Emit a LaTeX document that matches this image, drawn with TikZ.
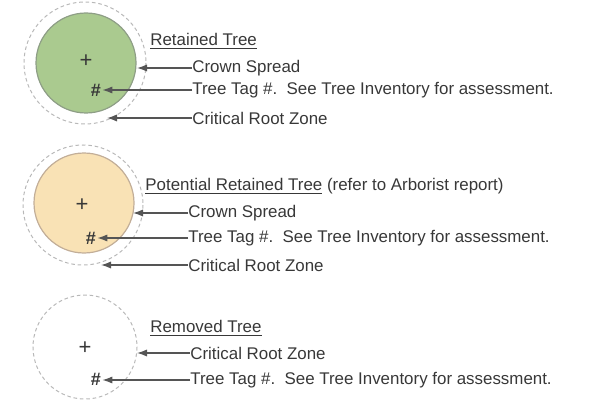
\documentclass[tikz,border=0pt]{standalone}
\usepackage{fontspec}
\setmainfont{Liberation Sans}
\usetikzlibrary{arrows.meta}
\definecolor{txt}{HTML}{383838}
\definecolor{ln}{HTML}{555555}
\definecolor{greenfill}{HTML}{AACA8F}
\definecolor{greenedge}{HTML}{8E9E86}
\definecolor{tanfill}{HTML}{F9E2B5}
\definecolor{tanedge}{HTML}{C2AE98}
\definecolor{dash}{HTML}{B8B8B8}
\tikzset{
  lbl/.style={anchor=west, inner sep=0pt, text=txt, font=\fontsize{8.45}{10}\selectfont},
  ttl/.style={anchor=west, inner sep=0pt, text=txt, font=\fontsize{8.45}{10}\selectfont},
  plus/.style={inner sep=0pt, text=txt, font=\fontsize{11}{12}\selectfont},
  hash/.style={inner sep=0.5pt, text=txt, font=\fontsize{9}{10}\selectfont\bfseries},
  pointer/.style={draw=ln, line width=0.6pt, -{Latex[length=5pt,width=3.6pt]}},
  crz/.style={draw=dash, dashed, dash pattern=on 1.8pt off 1.4pt, line width=0.5pt},
}
\begin{document}
\begin{tikzpicture}[x=0.5pt,y=-0.5pt]
\useasboundingbox (0,0) rectangle (589,401);
% ---------- Retained Tree ----------
\draw[crz] (85,63) circle (61);
\draw[fill=greenfill, draw=greenedge, line width=0.6pt] (86,63) circle (50);
\node[plus] (p1) at (86,61) {+};
\node[hash] (h1) at (96,90) {\#};
\coordinate (cs1) at (137,68);
\coordinate (cr1) at (107,118);
\node[ttl] (t1) at (150,41) {\underline{Retained Tree}};
\node[lbl] (l1a) at (192,68) {Crown Spread};
\node[lbl] (l1b) at (192,90) {Tree Tag \#.\ \ See Tree Inventory for assessment.};
\node[lbl] (l1c) at (192,118) {Critical Root Zone};
\draw[pointer] (l1a.west) -- (cs1);
\draw[pointer] (l1b.west) -- (h1.east |- l1b.west);
\draw[pointer] (l1c.west) -- (cr1);
% ---------- Potential Retained Tree ----------
\draw[crz] (83,205) circle (60);
\draw[fill=tanfill, draw=tanedge, line width=0.6pt] (84,203) circle (50);
\node[plus] (p2) at (82,205) {+};
\node[hash] (h2) at (91,238) {\#};
\coordinate (cs2) at (133,213);
\coordinate (cr2) at (101,265);
\node[ttl] (t2) at (145,186) {\underline{Potential Retained Tree} (refer to Arborist report)};
\node[lbl] (l2a) at (188,213) {Crown Spread};
\node[lbl] (l2b) at (188,238) {Tree Tag \#.\ \ See Tree Inventory for assessment.};
\node[lbl] (l2c) at (188,265) {Critical Root Zone};
\draw[pointer] (l2a.west) -- (cs2);
\draw[pointer] (l2b.west) -- (h2.east |- l2b.west);
\draw[pointer] (l2c.west) -- (cr2);
% ---------- Removed Tree ----------
\draw[crz] (85,347) circle (52);
\node[plus] (p3) at (85,348) {+};
\node[hash] (h3) at (96,379) {\#};
\coordinate (cr3) at (137,353);
\node[ttl] (t3) at (150,328) {\underline{Removed Tree}};
\node[lbl] (l3a) at (190,353) {Critical Root Zone};
\node[lbl] (l3b) at (190,380) {Tree Tag \#.\ \ See Tree Inventory for assessment.};
\draw[pointer] (l3a.west) -- (cr3);
\draw[pointer] (l3b.west) -- (h3.east |- l3b.west);
\end{tikzpicture}
\end{document}
